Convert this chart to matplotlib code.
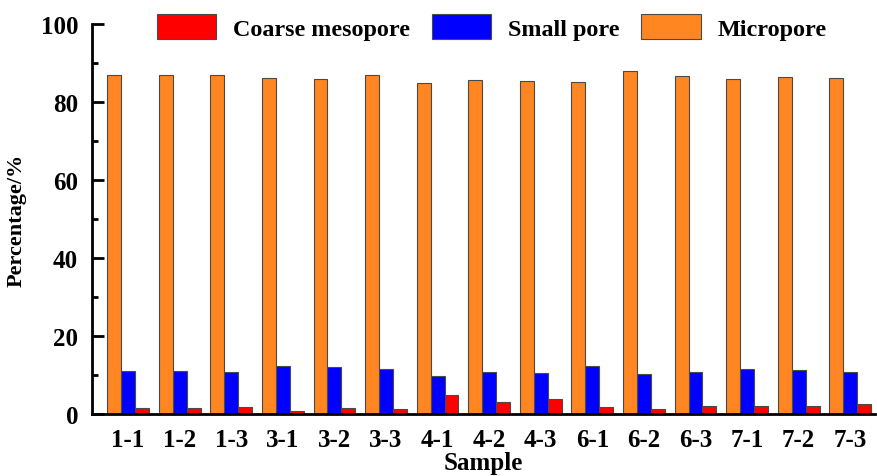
import matplotlib.pyplot as plt
from matplotlib.ticker import MultipleLocator
import numpy as np

samples = ["1-1", "1-2", "1-3", "3-1", "3-2", "3-3", "4-1", "4-2",
           "4-3", "6-1", "6-2", "6-3", "7-1", "7-2", "7-3"]
micropore = [86.9, 86.9, 86.8, 86.2, 86.0, 86.8, 84.9, 85.7,
             85.4, 85.1, 87.9, 86.7, 86.0, 86.3, 86.1]
small_pore = [11.0, 11.0, 10.85, 12.4, 12.05, 11.6, 9.8, 10.7,
              10.4, 12.4, 10.25, 10.85, 11.45, 11.2, 10.85]
coarse_meso = [1.5, 1.5, 1.8, 0.85, 1.5, 1.2, 4.8, 3.15,
               3.85, 1.9, 1.4, 2.1, 2.1, 2.0, 2.55]

plt.rcParams["font.family"] = ["Liberation Serif", "DejaVu Serif"]
plt.rcParams["font.weight"] = "bold"


def plot():
    fig = plt.figure(figsize=(8.77, 4.77), dpi=100)
    ax = fig.add_axes([0.1049, 0.130, 0.8928, 0.8176])

    x = np.arange(1, len(samples) + 1)
    w = 0.27
    edge = dict(edgecolor="#4a4a4a", linewidth=0.8)
    ax.bar(x + w, coarse_meso, w, color="#ff0000", label="Coarse mesopore", **edge)
    ax.bar(x, small_pore, w, color="#0000ff", label="Small pore", **edge)
    ax.bar(x - w, micropore, w, color="#ff8620", label="Micropore", **edge)

    ax.set_xlim(0.3, 15.48)
    ax.set_ylim(0, 100)
    ax.set_xticks(x)
    ax.set_xticklabels(samples)
    ax.yaxis.set_major_locator(MultipleLocator(20))
    ax.yaxis.set_minor_locator(MultipleLocator(10))

    for s in ["top", "right"]:
        ax.spines[s].set_visible(False)
    for s in ["left", "bottom"]:
        ax.spines[s].set_linewidth(2)

    ax.tick_params(axis="y", which="major", direction="in", length=8.5,
                   width=2, labelsize=18, pad=10)
    ax.tick_params(axis="y", which="minor", direction="in", length=4.5, width=2)
    ax.tick_params(axis="x", length=0, labelsize=18, pad=10)

    ax.set_xlabel("Sample", fontsize=18, fontweight="bold", labelpad=0)
    ax.set_ylabel("Percentage/%", fontsize=16, fontweight="bold", labelpad=10)

    ax.legend(loc="center", bbox_to_anchor=(0.561, 0.941),
              bbox_transform=fig.transFigure, ncol=3, frameon=False,
              fontsize=17.4, handlelength=2.45, handleheight=1.2,
              handletextpad=0.7, columnspacing=0.9)

    fig.savefig("out.png", dpi=100)


if __name__ == "__main__":
    plot()
